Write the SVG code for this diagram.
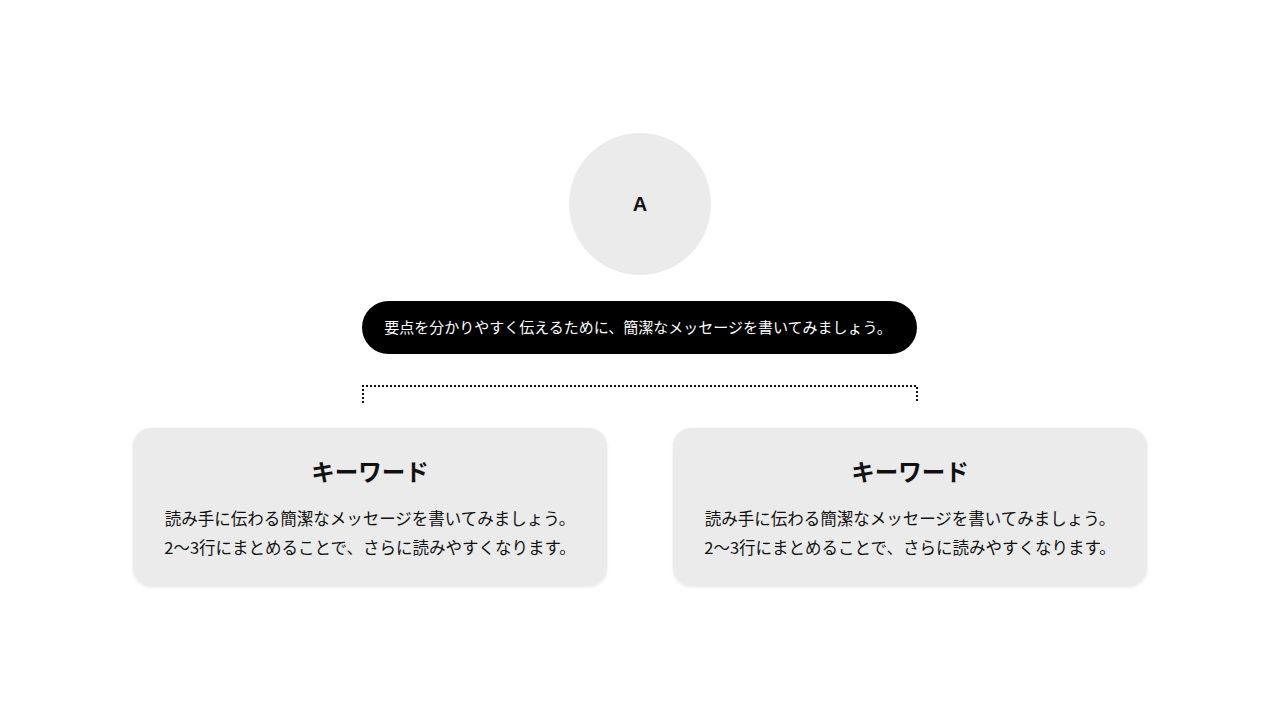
<svg xmlns="http://www.w3.org/2000/svg" width="1280" height="720" viewBox="0 0 1280 720">
<style>
text{font-family:"Noto Sans CJK JP","Noto Sans",sans-serif;text-anchor:middle;dominant-baseline:central}
.card{fill:#ebebeb}
.title{font-size:23.5px;font-weight:700;fill:#111}
.body{font-size:16.5px;fill:#111}
.conn{fill:none;stroke:#111;stroke-width:2;stroke-dasharray:2 2}
</style>
<defs>
<filter id="sh" x="-10%" y="-10%" width="120%" height="130%"><feDropShadow dx="0" dy="1" stdDeviation="1.5" flood-color="#000" flood-opacity="0.1"/></filter>
</defs>
<rect width="1280" height="720" fill="#fff"/>
<g id="nodeA">
<circle cx="640" cy="204" r="71" fill="#ebebeb"/>
<text x="640" y="204" style="font-family:'Liberation Sans',Arial,sans-serif;font-size:20px;font-weight:700;fill:#111">A</text>
</g>
<g id="message">
<rect x="362" y="301" width="555" height="53" rx="26.5" fill="#000"/>
<text x="638" y="326.5" style="font-size:15px;fill:#fff">要点を分かりやすく伝えるために、簡潔なメッセージを書いてみましょう。</text>
</g>
<g id="connectors">
<path class="conn" d="M363,403 V386 H917 V403"/>
</g>
<g id="card1">
<rect class="card" x="133" y="428" width="474" height="158" rx="18" filter="url(#sh)"/>
<text class="title" x="370" y="471">キーワード</text>
<text class="body" x="370" y="517.5">読み手に伝わる簡潔なメッセージを書いてみましょう。</text>
<text class="body" x="370" y="547">2〜3行にまとめることで、さらに読みやすくなります。</text>
</g>
<g id="card2">
<rect class="card" x="673" y="428" width="474" height="158" rx="18" filter="url(#sh)"/>
<text class="title" x="910" y="471">キーワード</text>
<text class="body" x="910" y="517.5">読み手に伝わる簡潔なメッセージを書いてみましょう。</text>
<text class="body" x="910" y="547">2〜3行にまとめることで、さらに読みやすくなります。</text>
</g>
</svg>
